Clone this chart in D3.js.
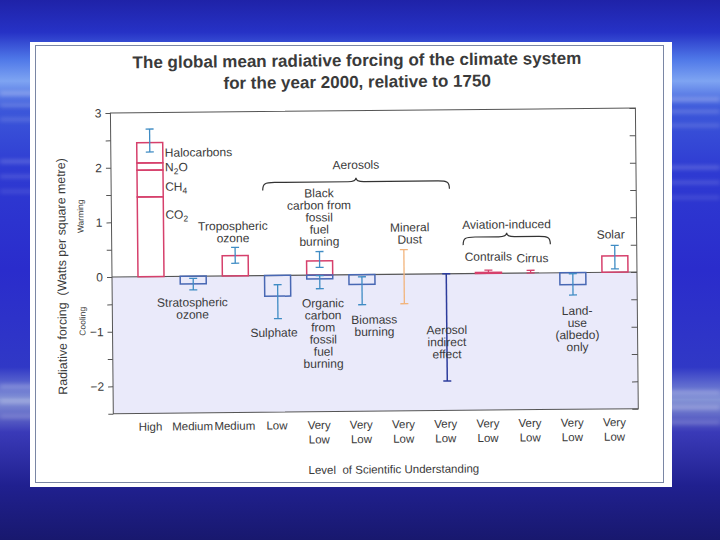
<!DOCTYPE html>
<html>
<head>
<meta charset="utf-8">
<title>radiative forcing</title>
<script src="https://cdn.jsdelivr.net/npm/d3@7"></script>
<style>
  body { margin: 0; overflow: hidden; background: #1c1c9a; }
  svg text { font-family: "Liberation Sans", Arial, sans-serif; fill: #3a3a3a; }
</style>
</head>
<body>
<svg id="chart" width="720" height="540"></svg>
<script>
// values (W/m2)
const categories = ["Greenhouse gases", "Stratospheric ozone", "Tropospheric ozone", "Sulphate",
  "Fossil fuel carbon", "Biomass burning", "Mineral dust", "Aerosol indirect effect",
  "Contrails", "Cirrus", "Land-use", "Solar"];
const understanding = ["High", "Medium", "Medium", "Low", "Very Low", "Very Low", "Very Low",
  "Very Low", "Very Low", "Very Low", "Very Low", "Very Low"];

// well mixed greenhouse gases, stacked
const ghgNames = ["CO2", "CH4", "N2O", "Halocarbons"];
const ghgValues = [1.46, 0.49, 0.13, 0.37];
const ghgRange = [2.28, 2.70];

// bars with a best estimate
const barCats = ["Stratospheric ozone", "Tropospheric ozone", "Sulphate", "Fossil fuel carbon",
  "Fossil fuel carbon", "Biomass burning", "Contrails", "Land-use", "Solar"];
const barValues = [-0.14, 0.37, -0.38, 0.26, -0.07, -0.18, 0.02, -0.22, 0.30];
const barLow = [-0.25, 0.23, -0.79, 0.14, -0.25, -0.55, 0.01, -0.41, 0.06];
const barHigh = [-0.04, 0.52, -0.17, 0.43, -0.01, -0.04, 0.06, -0.02, 0.49];

// ranges only, no best estimate
const rangeCats = ["Mineral dust", "Aerosol indirect effect", "Cirrus"];
const rangeLow = [-0.54, -1.96, 0];
const rangeHigh = [0.45, 0, 0.05];

const yTicks = [-2, -1, 0, 1, 2, 3];

const red = "#d6406c", blue = "#4868b4", errBlue = "#3f8cc4";
const errColor = { "Mineral dust": "#f2b47c", "Aerosol indirect effect": "#2c3c9c",
  "Cirrus": red, "Contrails": red };

const svg = d3.select("#chart");

// slide background
const defs = svg.append("defs");
const bg = defs.append("linearGradient").attr("id", "bg").attr("x1", 0).attr("x2", 0).attr("y1", 0).attr("y2", 1);
[[0, "#1f22a8"], [0.06, "#2632c6"], [0.11, "#4f78e8"], [0.15, "#7ea4f2"], [0.2, "#3c58da"],
 [0.32, "#2e3ad2"], [0.5, "#2a2ccc"], [0.68, "#3038c6"], [0.74, "#8594d6"], [0.8, "#3a3ab8"],
 [0.9, "#20208f"], [1, "#18186e"]].forEach(s => bg.append("stop").attr("offset", s[0]).attr("stop-color", s[1]));
defs.append("filter").attr("id", "blur").append("feGaussianBlur").attr("stdDeviation", 2);
svg.append("rect").attr("width", 720).attr("height", 540).attr("fill", "url(#bg)");
const streaks = svg.append("g").attr("filter", "url(#blur)").attr("fill", "#fff");
[[92, 0.35], [104, 0.25], [118, 0.2], [160, 0.25], [175, 0.2], [190, 0.15], [385, 0.3], [400, 0.35], [415, 0.25]]
  .forEach(s => {
    streaks.append("rect").attr("x", 0).attr("y", s[0]).attr("width", 40).attr("height", 3).attr("opacity", s[1]);
    streaks.append("rect").attr("x", 660).attr("y", s[0] + 6).attr("width", 60).attr("height", 3).attr("opacity", s[1]);
  });

// white panel
svg.append("rect").attr("x", 30).attr("y", 42).attr("width", 642).attr("height", 445).attr("fill", "#fff");
svg.append("rect").attr("x", 35.5).attr("y", 45.5).attr("width", 628).attr("height", 437)
  .attr("fill", "none").attr("stroke", "#7a86a4").attr("stroke-width", 1);

// the scanned figure is slightly tilted
const g = svg.append("g").attr("transform", "rotate(-0.55,112,277)");

const left = 112, right = 637;
const y = d3.scaleLinear().domain([-2.5, 3]).range([413.7, 113]);
const x = d3.scalePoint().domain(categories).range([151, 615]);
const bw = 26;

g.append("text").attr("x", 359).attr("y", 68.4).attr("text-anchor", "middle")
  .attr("font-size", 17).attr("font-weight", "bold").attr("fill", "#2a2a2a")
  .text("The global mean radiative forcing of the climate system");
g.append("text").attr("x", 359).attr("y", 90).attr("text-anchor", "middle")
  .attr("font-size", 17).attr("font-weight", "bold").attr("fill", "#2a2a2a")
  .text("for the year 2000, relative to 1750");

// cooling region shading
g.append("rect").attr("x", left).attr("y", y(0)).attr("width", right - left).attr("height", y(-2.5) - y(0))
  .attr("fill", "#eaeafa");

// axes
const yAxis = g.append("g").attr("transform", `translate(${left},0)`)
  .call(d3.axisLeft(y).tickValues(d3.range(-2.5, 3.01, 0.5)).tickSize(5)
    .tickFormat(d => yTicks.includes(d) ? d3.format("d")(d) : ""));
yAxis.selectAll("text").attr("font-size", 12).attr("fill", "#3a3a3a").attr("x", -9);
yAxis.selectAll("line, path").attr("stroke", "#555");
yAxis.select(".domain").remove();
const rAxis = g.append("g").attr("transform", `translate(${right},0)`)
  .call(d3.axisLeft(y).tickValues(d3.range(-2.5, 3.01, 0.5)).tickSize(6).tickFormat(""));
rAxis.selectAll("line, path").attr("stroke", "#555");
rAxis.select(".domain").remove();
g.append("rect").attr("x", left).attr("y", y(3)).attr("width", right - left).attr("height", y(-2.5) - y(3))
  .attr("fill", "none").attr("stroke", "#555").attr("stroke-width", 1);
g.append("line").attr("x1", left).attr("x2", right).attr("y1", y(0)).attr("y2", y(0))
  .attr("stroke", "#555").attr("stroke-width", 1.1);

g.append("text").attr("transform", `translate(66,276) rotate(-90)`).attr("text-anchor", "middle")
  .attr("font-size", 12.4).text("Radiative forcing  (Watts per square metre)").attr("xml:space", "preserve");
g.append("text").attr("transform", `translate(84,216) rotate(-90)`).attr("text-anchor", "middle")
  .attr("font-size", 8.5).text("Warming");
g.append("text").attr("transform", `translate(85,321) rotate(-90)`).attr("text-anchor", "middle")
  .attr("font-size", 8.5).text("Cooling");

// greenhouse gas stack
const ghgStack = d3.cumsum(ghgValues);
g.append("g").selectAll("rect").data(ghgNames).join("rect")
  .attr("x", x(categories[0]) - bw / 2).attr("width", bw)
  .attr("y", (d, i) => y(ghgStack[i]))
  .attr("height", (d, i) => y(ghgStack[i] - ghgValues[i]) - y(ghgStack[i]))
  .attr("fill", "none").attr("stroke", red).attr("stroke-width", 1.5);

// bars
g.append("g").selectAll("rect").data(barCats).join("rect")
  .attr("x", d => x(d) - bw / 2).attr("width", bw)
  .attr("y", (d, i) => y(Math.max(0, barValues[i])))
  .attr("height", (d, i) => Math.abs(y(barValues[i]) - y(0)))
  .attr("fill", "none").attr("stroke", (d, i) => barValues[i] > 0 ? red : blue).attr("stroke-width", 1.5);

// uncertainty bars
const errs = [{ c: categories[0], lo: ghgRange[0], hi: ghgRange[1] }]
  .concat(barCats.map((c, i) => ({ c, lo: barLow[i], hi: barHigh[i] })))
  .concat(rangeCats.map((c, i) => ({ c, lo: rangeLow[i], hi: rangeHigh[i] })));
const eb = g.append("g").selectAll("g").data(errs).join("g")
  .attr("stroke", d => errColor[d.c] || errBlue).attr("stroke-width", d => d.c === "Aerosol indirect effect" ? 1.5 : 1.3);
eb.append("line").attr("x1", d => x(d.c)).attr("x2", d => x(d.c)).attr("y1", d => y(d.lo)).attr("y2", d => y(d.hi));
eb.append("line").attr("x1", d => x(d.c) - 4).attr("x2", d => x(d.c) + 4).attr("y1", d => y(d.lo)).attr("y2", d => y(d.lo));
eb.append("line").attr("x1", d => x(d.c) - 4).attr("x2", d => x(d.c) + 4).attr("y1", d => y(d.hi)).attr("y2", d => y(d.hi));

// annotations: [category, dx from bar centre, first line centre y, lines]
const notes = [
  ["Stratospheric ozone", -1, 303, ["Stratospheric", "ozone"]],
  ["Tropospheric ozone", -2, 227, ["Tropospheric", "ozone"]],
  ["Sulphate", -4, 334, ["Sulphate"]],
  ["Fossil fuel carbon", 0, 195, ["Black", "carbon from", "fossil", "fuel", "burning"]],
  ["Fossil fuel carbon", 3, 305, ["Organic", "carbon", "from", "fossil", "fuel", "burning"]],
  ["Biomass burning", 12, 322, ["Biomass", "burning"]],
  ["Mineral dust", 6, 230, ["Mineral", "Dust"]],
  ["Aerosol indirect effect", 0, 333, ["Aerosol", "indirect", "effect"]],
  ["Contrails", 0, 260, ["Contrails"]],
  ["Cirrus", 2, 262, ["Cirrus"]],
  ["Land-use", 4, 315, ["Land-", "use", "(albedo)", "only"]],
  ["Solar", -4, 239, ["Solar"]]
];
notes.forEach(n => {
  const t = g.append("text").attr("font-size", 12).attr("text-anchor", "middle");
  n[3].forEach((s, i) => t.append("tspan").attr("x", x(n[0]) + n[1]).attr("y", n[2] + 4.3 + i * 12.1).text(s));
});

// greenhouse gas labels with subscripts
const ghgLabelY = [215, 187, 167.5, 153];
ghgNames.forEach((nm, i) => {
  const t = g.append("text").attr("font-size", 12).attr("x", x(categories[0]) + 15).attr("y", ghgLabelY[i] + 4.3);
  const m = nm.match(/^([A-Z]+)(\d)([A-Z]*)$/);
  if (m) {
    t.append("tspan").text(m[1]);
    t.append("tspan").attr("font-size", 8.5).attr("dy", 3).text(m[2]);
    t.append("tspan").attr("dy", -3).text(m[3]);
  } else t.text(nm);
});

// group braces
function brace(x1, x2, yT) {
  const mid = (x1 + x2) / 2;
  return `M${x1},${yT + 8} C${x1},${yT + 1} ${x1 + 2},${yT} ${x1 + 12},${yT} L${mid - 8},${yT}` +
    ` C${mid - 3},${yT} ${mid},${yT - 1} ${mid},${yT - 4} C${mid},${yT - 1} ${mid + 3},${yT} ${mid + 8},${yT}` +
    ` L${x2 - 12},${yT} C${x2 - 2},${yT} ${x2},${yT + 1} ${x2},${yT + 8}`;
}
const groups = [
  ["Aerosols", x("Sulphate") - 14, x("Aerosol indirect effect") + 4, 184, 167],
  ["Aviation-induced", x("Contrails") - 25, x("Cirrus") + 20, 240.5, 228]
];
groups.forEach(gr => {
  g.append("path").attr("d", brace(gr[1], gr[2], gr[3])).attr("fill", "none").attr("stroke", "#333").attr("stroke-width", 1.2);
  g.append("text").attr("x", (gr[1] + gr[2]) / 2).attr("y", gr[4] + 4.3).attr("text-anchor", "middle")
    .attr("font-size", 12).text(gr[0]);
});

// level of scientific understanding
const losu = g.append("g").selectAll("text").data(categories).join("text")
  .attr("font-size", 11.5).attr("text-anchor", "middle");
losu.each(function (d, i) {
  const words = understanding[i].split(" ");
  words.forEach((w, k) => d3.select(this).append("tspan").attr("x", x(d) - 2).attr("y", 431 + k * 14.5).text(w));
});
g.append("text").attr("x", 392).attr("y", 476).attr("text-anchor", "middle").attr("font-size", 11.5)
  .attr("xml:space", "preserve").text("Level  of Scientific Understanding");
</script>
</body>
</html>
